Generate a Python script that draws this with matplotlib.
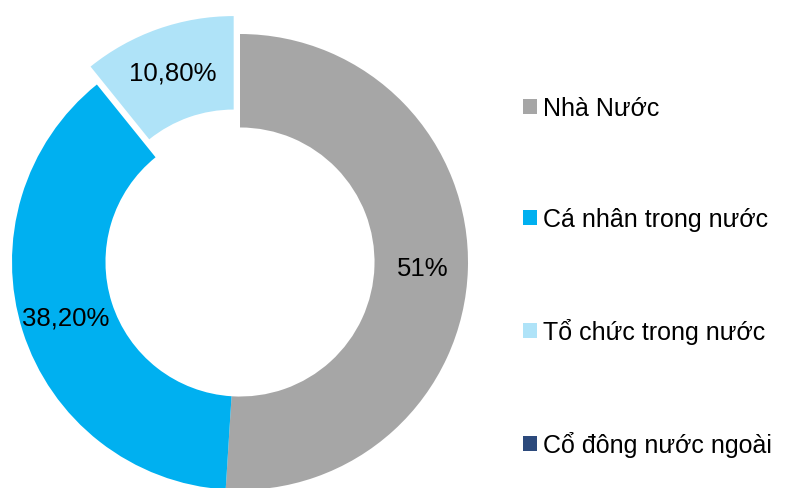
import matplotlib
matplotlib.use("Agg")
import matplotlib.pyplot as plt
import numpy as np

plt.rcParams['font.family'] = ['Liberation Sans', 'DejaVu Sans']

categories = ["Nhà Nước", "Cá nhân trong nước", "Tổ chức trong nước", "Cổ đông nước ngoài"]
values = [51.0, 38.2, 10.8, 0.0]
value_labels = ["51%", "38,20%", "10,80%", ""]
colors = ["#A6A6A6", "#00B0F0", "#AFE3F8", "#2C4A7C"]

W, H = 789, 489
R = 228
cx, cy = 240, H - 263
explode = [0, 0, 19, 0]   # pie's explode is in data units here (pixels)

fig = plt.figure(figsize=(W / 100, H / 100), dpi=100)
ax = fig.add_axes([0, 0, 1, 1])

wedges, _ = ax.pie(values, colors=colors, startangle=90, counterclock=False,
                   radius=R, center=(cx, cy), explode=explode,
                   wedgeprops=dict(width=R * 0.41, linewidth=0),
                   frame=True)
ax.set_xlim(0, W)
ax.set_ylim(0, H)
ax.set_aspect('equal')
ax.axis('off')

# percentage labels along each wedge's mid angle
for w, lab, ex in zip(wedges, value_labels, explode):
    if not lab:
        continue
    mid = np.deg2rad((w.theta1 + w.theta2) / 2)
    r = R * 0.8 + ex
    ax.text(cx + r * np.cos(mid), cy + r * np.sin(mid), lab,
            ha='center', va='center', fontsize=18.5, color='black')

leg = ax.legend(wedges, categories, loc='upper left',
                bbox_to_anchor=(513 / W, 1 - 87 / H), frameon=False,
                fontsize=18, handlelength=0.55, handleheight=0.55,
                handletextpad=0.25, labelspacing=3.48, borderaxespad=0)

fig.savefig("out.png", dpi=100)
